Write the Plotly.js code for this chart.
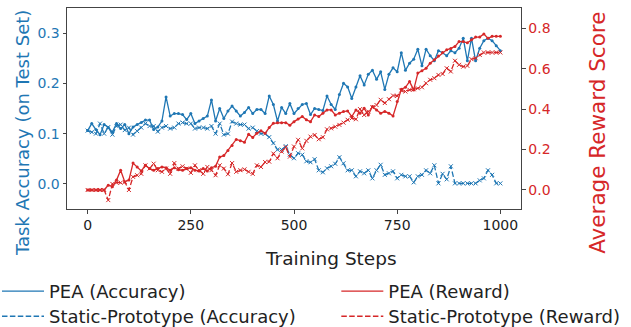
<!DOCTYPE html>
<html>
<head>
<meta charset="utf-8">
<script src="https://cdn.plot.ly/plotly-3.0.1.min.js"></script>
<style>html,body{margin:0;padding:0;background:#fff;}#chart{width:631px;height:327px;}</style>
</head>
<body>
<div id="chart"></div>
<script>
const steps = [0,10,20,30,40,50,60,70,80,90,100,110,120,130,140,150,160,170,180,190,200,210,220,230,240,250,260,270,280,290,300,310,320,330,340,350,360,370,380,390,400,410,420,430,440,450,460,470,480,490,500,510,520,530,540,550,560,570,580,590,600,610,620,630,640,650,660,670,680,690,700,710,720,730,740,750,760,770,780,790,800,810,820,830,840,850,860,870,880,890,900,910,920,930,940,950,960,970,980,990,1000];

const peaAccuracy = [0.106,0.120,0.108,0.098,0.118,0.112,0.103,0.120,0.110,0.118,
0.100,0.113,0.118,0.122,0.127,0.127,0.108,0.113,0.125,0.173,
0.135,0.140,0.140,0.138,0.128,0.140,0.120,0.125,0.130,0.135,
0.167,0.125,0.150,0.130,0.145,0.155,0.145,0.135,0.142,0.152,
0.140,0.148,0.148,0.140,0.175,0.158,0.125,0.152,0.140,0.160,
0.140,0.150,0.158,0.160,0.138,0.150,0.148,0.146,0.175,0.158,
0.148,0.178,0.200,0.193,0.170,0.193,0.215,0.197,0.218,0.226,
0.208,0.223,0.188,0.218,0.231,0.223,0.261,0.226,0.240,0.248,
0.268,0.235,0.268,0.255,0.245,0.265,0.261,0.255,0.265,0.261,
0.270,0.290,0.245,0.290,0.245,0.270,0.285,0.290,0.285,0.275,0.265];

const staticAccuracy = [0.106,0.103,0.100,0.120,0.100,0.113,0.098,0.115,0.118,0.107,
0.112,0.098,0.105,0.112,0.120,0.115,0.115,0.104,0.112,0.115,
0.110,0.112,0.120,0.122,0.120,0.120,0.110,0.112,0.112,0.110,
0.115,0.100,0.120,0.098,0.100,0.124,0.120,0.118,0.118,0.110,
0.112,0.105,0.100,0.100,0.093,0.081,0.068,0.068,0.075,0.058,
0.051,0.061,0.058,0.045,0.043,0.049,0.027,0.023,0.031,0.035,
0.040,0.053,0.041,0.027,0.027,0.015,0.025,0.021,0.027,0.011,
0.027,0.038,0.018,0.021,0.025,0.011,0.018,0.015,0.015,0.003,
0.015,0.018,0.027,0.021,0.037,0.001,0.020,0.009,0.035,0.001,
0.001,0.001,0.001,0.001,0.001,0.007,0.011,0.027,0.018,0.001,0.001];

const peaReward = [0.000,0.000,0.000,0.000,0.000,0.024,0.016,0.049,0.098,0.040,
0.049,0.133,0.114,0.094,0.122,0.106,0.098,0.106,0.114,0.110,
0.098,0.110,0.100,0.098,0.106,0.110,0.098,0.094,0.106,0.094,
0.110,0.118,0.163,0.170,0.195,0.220,0.250,0.244,0.236,0.276,
0.260,0.280,0.293,0.280,0.309,0.330,0.333,0.333,0.333,0.320,
0.338,0.351,0.363,0.347,0.338,0.371,0.363,0.380,0.396,0.396,
0.371,0.380,0.388,0.391,0.363,0.396,0.380,0.404,0.371,0.413,
0.396,0.380,0.388,0.380,0.366,0.437,0.498,0.508,0.536,0.495,
0.578,0.590,0.602,0.627,0.644,0.663,0.680,0.693,0.700,0.710,
0.734,0.734,0.728,0.743,0.756,0.756,0.772,0.750,0.760,0.760,0.760];

const staticReward = [0.000,0.000,0.000,0.000,0.000,-0.050,0.030,0.036,0.036,0.040,
0.000,0.065,0.073,0.080,0.122,0.106,0.130,0.098,0.090,0.106,
0.080,0.133,0.106,0.117,0.106,0.085,0.122,0.098,0.080,0.114,
0.098,0.073,0.122,0.106,0.078,0.133,0.090,0.098,0.102,0.090,
0.080,0.122,0.114,0.138,0.140,0.180,0.157,0.190,0.211,0.165,
0.215,0.248,0.206,0.243,0.264,0.272,0.251,0.261,0.300,0.305,
0.313,0.322,0.333,0.347,0.355,0.350,0.400,0.371,0.388,0.409,
0.420,0.446,0.430,0.449,0.467,0.465,0.492,0.487,0.495,0.498,
0.503,0.508,0.528,0.545,0.553,0.569,0.574,0.602,0.586,0.639,
0.619,0.610,0.614,0.647,0.652,0.668,0.680,0.680,0.680,0.680,0.680];

const xTicks = [0,250,500,750,1000];
const accTicks = [0.0,0.1,0.2,0.3];
const rewardTicks = [0.0,0.2,0.4,0.6,0.8];
const seriesNames = ['PEA (Accuracy)','PEA (Reward)','Static-Prototype (Accuracy)','Static-Prototype (Reward)'];

const BLUE = '#1f77b4', RED = '#d62728';
const DASH = '5.5px,2.4px';
const LW = 1.3;

const traces = [
  {x: steps, y: peaAccuracy, yaxis: 'y', mode: 'lines+markers', showlegend: false,
   line: {color: BLUE, width: LW}, marker: {symbol: 'circle', size: 3, color: BLUE}},
  {x: steps, y: peaReward, yaxis: 'y2', mode: 'lines+markers', showlegend: false,
   line: {color: RED, width: LW}, marker: {symbol: 'circle', size: 3, color: RED}},
  {x: steps, y: staticAccuracy, yaxis: 'y', mode: 'lines+markers', showlegend: false,
   line: {color: BLUE, width: LW, dash: DASH}, marker: {symbol: 'x-thin', size: 4, color: BLUE, line: {color: BLUE, width: 1}}},
  {x: steps, y: staticReward, yaxis: 'y2', mode: 'lines+markers', showlegend: false,
   line: {color: RED, width: LW, dash: DASH}, marker: {symbol: 'x-thin', size: 4, color: RED, line: {color: RED, width: 1}}},
  // legend entries (lines only, like the reference legend), one legend box per cell of the 2x2 grid
  {x: [null], y: [null], yaxis: 'y', mode: 'lines', name: seriesNames[0], legend: 'legend', line: {color: BLUE, width: LW}},
  {x: [null], y: [null], yaxis: 'y2', mode: 'lines', name: seriesNames[1], legend: 'legend2', line: {color: RED, width: LW}},
  {x: [null], y: [null], yaxis: 'y', mode: 'lines', name: seriesNames[2], legend: 'legend3', line: {color: BLUE, width: LW, dash: DASH}},
  {x: [null], y: [null], yaxis: 'y2', mode: 'lines', name: seriesNames[3], legend: 'legend4', line: {color: RED, width: LW, dash: DASH}}
];

const FONT = 'DejaVu Sans, sans-serif';
const AX = '#444';

const legendBase = {
  orientation: 'v', xanchor: 'left', yanchor: 'top',
  itemwidth: 42,
  font: {family: FONT, size: 18, color: '#222'},
  bgcolor: 'rgba(0,0,0,0)', traceorder: 'normal'
};
const COL1 = -0.1542, COL2 = 0.5932, ROW1 = -0.318, ROW2 = -0.443;

const layout = {
  width: 631, height: 327,
  margin: {l: 67, r: 110, t: 8, b: 118, autoexpand: false},
  paper_bgcolor: '#fff', plot_bgcolor: '#fff',
  font: {family: FONT, size: 14, color: '#222'},
  showlegend: true,
  xaxis: {
    range: [-50, 1050], tickvals: xTicks, ticktext: xTicks.map(String),
    ticks: 'outside', ticklen: 3.5, tickwidth: 1, tickcolor: AX,
    showline: true, linecolor: AX, linewidth: 1, mirror: true,
    showgrid: false, zeroline: false,
    tickfont: {family: FONT, size: 14, color: '#222'}
  },
  yaxis: {
    range: [-0.05, 0.35], tickvals: accTicks, ticktext: accTicks.map(v => v.toFixed(1)),
    ticks: 'outside', ticklen: 3.5, tickwidth: 1, tickcolor: AX,
    showline: true, linecolor: AX, linewidth: 1, mirror: true,
    showgrid: false, zeroline: false,
    tickfont: {family: FONT, size: 14, color: BLUE}
  },
  yaxis2: {
    overlaying: 'y', side: 'right',
    range: [-0.094, 0.9], tickvals: rewardTicks, ticktext: rewardTicks.map(v => v.toFixed(1)),
    ticks: 'outside', ticklen: 3.5, tickwidth: 1, tickcolor: AX,
    showline: true, linecolor: AX, linewidth: 1,
    showgrid: false, zeroline: false,
    tickfont: {family: FONT, size: 14, color: RED}
  },
  legend: Object.assign({}, legendBase, {x: COL1, y: ROW1}),
  legend2: Object.assign({}, legendBase, {x: COL2, y: ROW1}),
  legend3: Object.assign({}, legendBase, {x: COL1, y: ROW2}),
  legend4: Object.assign({}, legendBase, {x: COL2, y: ROW2}),
  annotations: [
    {text: 'Task Accuracy (on Test Set)', xref: 'paper', yref: 'paper', x: -0.099, y: 0.378,
     xanchor: 'center', yanchor: 'middle', textangle: -90, showarrow: false,
     font: {family: FONT, size: 18, color: BLUE}},
    {text: 'Average Reward Score', xref: 'paper', yref: 'paper', x: 1.167, y: 0.378,
     xanchor: 'center', yanchor: 'middle', textangle: -90, showarrow: false,
     font: {family: FONT, size: 21.5, color: RED}},
    {text: 'Training Steps', xref: 'paper', yref: 'paper', x: 0.5815, y: -0.244,
     xanchor: 'center', yanchor: 'middle', showarrow: false,
     font: {family: FONT, size: 18.5, color: '#222'}}
  ]
};

Plotly.newPlot('chart', traces, layout, {displayModeBar: false, staticPlot: true});
</script>
</body>
</html>
